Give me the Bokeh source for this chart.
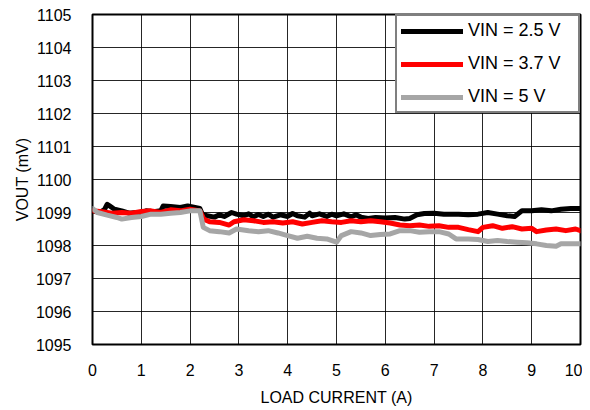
from bokeh.plotting import figure
from bokeh.models import Legend, LegendItem, FixedTicker, Range1d
from bokeh.embed import file_html
from bokeh.resources import INLINE

# Load current (A) and VOUT (mV) per input voltage
x_25 = [0.0, 0.15, 0.25, 0.3, 0.35, 0.45, 0.6, 0.75, 0.9, 1.0, 1.1, 1.25, 1.4, 1.45, 1.6, 1.8, 1.95, 2.1, 2.2,
        2.25, 2.35, 2.5, 2.6, 2.7, 2.85, 2.95, 3.1, 3.2, 3.3, 3.4, 3.5, 3.6, 3.7, 3.85, 4.0, 4.1, 4.2, 4.35, 4.45,
        4.5, 4.65, 4.8, 4.9, 5.0, 5.15, 5.3, 5.4, 5.5, 5.65, 5.8, 6.0, 6.2, 6.4, 6.5, 6.65, 6.8, 7.0, 7.2, 7.5,
        7.7, 7.9, 8.1, 8.3, 8.5, 8.65, 8.8, 9.0, 9.2, 9.4, 9.6, 9.8, 10.0]
vout_25 = [1099.05, 1099.0, 1099.1, 1099.25, 1099.2, 1099.1, 1099.05, 1098.98, 1099.0, 1098.98, 1099.05, 1099.02,
           1099.05, 1099.2, 1099.18, 1099.15, 1099.2, 1099.15, 1099.12, 1098.95, 1098.9, 1098.86, 1098.93, 1098.88,
           1099.0, 1098.95, 1098.9, 1098.96, 1098.87, 1098.94, 1098.88, 1098.95, 1098.86, 1098.93, 1098.88, 1098.97,
           1098.9, 1098.86, 1098.98, 1098.9, 1098.96, 1098.88, 1098.95, 1098.9, 1098.96, 1098.87, 1098.93, 1098.86,
           1098.82, 1098.85, 1098.83, 1098.85, 1098.8, 1098.82, 1098.93, 1098.97, 1098.98, 1098.95, 1098.95,
           1098.93, 1098.95, 1099.0, 1098.95, 1098.9, 1098.88, 1099.05, 1099.05, 1099.08, 1099.05, 1099.1,
           1099.12, 1099.12]

x_37 = [0.0, 0.2, 0.4, 0.6, 0.8, 1.0, 1.2, 1.4, 1.6, 1.8, 2.0, 2.2, 2.28, 2.4, 2.6, 2.8, 2.9, 3.1, 3.3, 3.5, 3.7,
        3.9, 4.1, 4.3, 4.5, 4.7, 4.9, 5.1, 5.3, 5.5, 5.7, 5.9, 6.1, 6.3, 6.5, 6.7, 6.9, 7.1, 7.3, 7.5, 7.7, 7.9,
        8.0, 8.2, 8.4, 8.6, 8.8, 9.0, 9.1, 9.3, 9.5, 9.7, 9.9, 10.0]
vout_37 = [1099.05, 1099.02, 1098.98, 1099.0, 1098.98, 1099.03, 1099.05, 1099.0, 1099.08, 1099.05, 1099.1, 1099.05,
           1098.8, 1098.72, 1098.7, 1098.62, 1098.72, 1098.78, 1098.75, 1098.7, 1098.72, 1098.68, 1098.72, 1098.65,
           1098.7, 1098.75, 1098.72, 1098.7, 1098.75, 1098.72, 1098.75, 1098.72, 1098.68, 1098.62, 1098.6, 1098.62,
           1098.58, 1098.6, 1098.55, 1098.55, 1098.48, 1098.42, 1098.55, 1098.6, 1098.52, 1098.57, 1098.5, 1098.52,
           1098.42, 1098.47, 1098.5, 1098.45, 1098.5, 1098.45]

x_50 = [0.0, 0.1, 0.3, 0.5, 0.6, 0.8, 1.0, 1.2, 1.4, 1.6, 1.8, 2.0, 2.2, 2.27, 2.4, 2.6, 2.8, 2.95, 3.2, 3.4, 3.6,
        3.8, 4.0, 4.2, 4.4, 4.6, 4.8, 5.0, 5.1, 5.3, 5.5, 5.7, 5.9, 6.1, 6.3, 6.5, 6.7, 6.9, 7.1, 7.3, 7.45, 7.7,
        7.9, 8.1, 8.3, 8.5, 8.7, 8.9, 9.1, 9.3, 9.5, 9.6, 9.8, 10.0]
vout_50 = [1099.12, 1099.0, 1098.92, 1098.85, 1098.8, 1098.85, 1098.88, 1098.95, 1098.95, 1098.98, 1099.0, 1099.05,
           1099.05, 1098.55, 1098.45, 1098.42, 1098.38, 1098.5, 1098.45, 1098.42, 1098.45, 1098.38, 1098.3, 1098.22,
           1098.28, 1098.22, 1098.2, 1098.1, 1098.3, 1098.42, 1098.38, 1098.3, 1098.33, 1098.35, 1098.45, 1098.45,
           1098.4, 1098.42, 1098.42, 1098.35, 1098.2, 1098.2, 1098.18, 1098.12, 1098.15, 1098.12, 1098.1, 1098.08,
           1098.05, 1098.0, 1097.98, 1098.05, 1098.05, 1098.05]

x_ticks = [0, 1, 2, 3, 4, 5, 6, 7, 8, 9, 10]
y_ticks = [1095, 1096, 1097, 1098, 1099, 1100, 1101, 1102, 1103, 1104, 1105]
labels = ["VIN = 2.5 V", "VIN = 3.7 V", "VIN = 5 V"]
colors = ["#000000", "#FF0000", "#A6A6A6"]

FONT = "Liberation Sans"

p = figure(frame_width=488, frame_height=330, output_backend="svg", toolbar_location=None,
           x_range=Range1d(0, 10), y_range=Range1d(1095, 1105),
           min_border_left=92, min_border_right=2, min_border_top=14, min_border_bottom=50,
           x_axis_label="LOAD CURRENT (A)", y_axis_label="VOUT (mV)")

p.outline_line_color = "black"
p.outline_line_width = 2
p.background_fill_color = "white"
p.border_fill_color = "white"

for ax in (p.xaxis[0], p.yaxis[0]):
    ax.axis_line_color = None
    ax.major_tick_line_color = None
    ax.minor_tick_line_color = None
    ax.major_label_text_font = FONT
    ax.major_label_text_font_size = "16px"
    ax.major_label_text_color = "black"
    ax.axis_label_text_font = FONT
    ax.axis_label_text_font_size = "16px"
    ax.axis_label_text_font_style = "normal"
    ax.axis_label_text_color = "black"

p.xaxis[0].ticker = FixedTicker(ticks=x_ticks)
p.yaxis[0].ticker = FixedTicker(ticks=y_ticks)
p.xaxis[0].major_label_standoff = 13
p.yaxis[0].major_label_standoff = 15
p.xaxis[0].axis_label_standoff = 10
p.yaxis[0].axis_label_standoff = 2

for g in (p.xgrid[0], p.ygrid[0]):
    g.grid_line_color = "black"
    g.grid_line_width = 1
    g.grid_line_alpha = 0.85
p.xgrid[0].ticker = FixedTicker(ticks=x_ticks)
p.ygrid[0].ticker = FixedTicker(ticks=y_ticks)

series = [(x_25, vout_25), (x_37, vout_37), (x_50, vout_50)]
items = []
for (xs, ys), lab, col in zip(series, labels, colors):
    r = p.line(xs, ys, line_color=col, line_width=5, line_join="round", line_cap="round")
    items.append(LegendItem(label=lab, renderers=[r]))

legend = Legend(items=items, location="top_right", margin=0, padding=4, spacing=12,
                glyph_width=62, glyph_height=20, label_height=20, label_width=106,
                label_standoff=5, label_text_font=FONT, label_text_font_size="18px",
                label_text_color="black", border_line_color="black", border_line_width=2,
                background_fill_color="white", background_fill_alpha=1.0)
p.add_layout(legend, "center")

open("out.html", "w").write(file_html(p, INLINE))
